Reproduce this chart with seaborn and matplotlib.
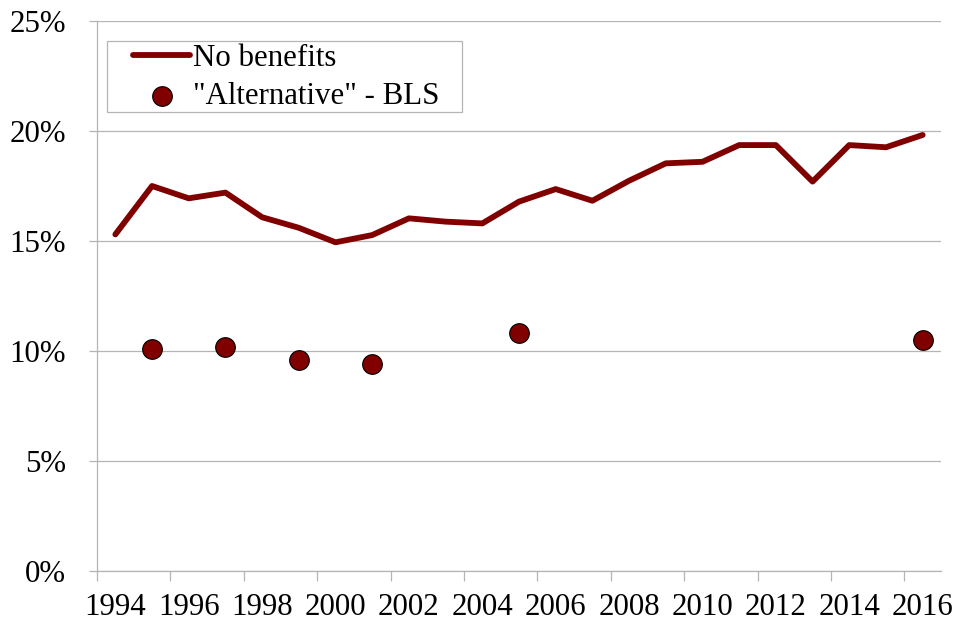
import matplotlib
matplotlib.use("Agg")
import matplotlib.pyplot as plt
from matplotlib.patches import Rectangle
import seaborn as sns
import pandas as pd
import numpy as np

# Share of workers without benefits, by year
years = list(range(1994, 2017))
no_benefits = [15.3, 17.5, 16.94, 17.2, 16.08, 15.6, 14.94, 15.27, 16.03, 15.88,
               15.8, 16.79, 17.36, 16.83, 17.74, 18.53, 18.6, 19.36, 19.36, 17.7,
               19.36, 19.26, 19.82]

# BLS "alternative" arrangements survey years
bls_years = [1995, 1997, 1999, 2001, 2005, 2016]
bls_values = [10.09, 10.2, 9.59, 9.41, 10.8, 10.5]

y_ticks = [0, 5, 10, 15, 20, 25]
x_labels = [str(y) for y in range(1994, 2017, 2)]

line_df = pd.DataFrame({"year": years, "share": no_benefits})
dot_df = pd.DataFrame({"year": bls_years, "share": bls_values})

sns.set_theme(style="white")
plt.rcParams["font.family"] = ["Liberation Serif", "DejaVu Serif"]

MAROON = "#800000"
GRID = "#B5B5B5"
FS = 22.2

fig = plt.figure(figsize=(9.56, 6.24), dpi=100)
ax = fig.add_axes([97 / 956, (624 - 571) / 624, 844 / 956, 550 / 624])

sns.lineplot(data=line_df, x="year", y="share", ax=ax, color=MAROON,
             linewidth=4.2, solid_capstyle="round", solid_joinstyle="round",
             label="No benefits", zorder=3)
sns.scatterplot(data=dot_df, x="year", y="share", ax=ax, color=MAROON,
                s=200, edgecolor="black", linewidth=0.8,
                label='"Alternative" - BLS', zorder=4)

ax.set_xlim(years[0] - 0.5, years[-1] + 0.5)
ax.set_ylim(0, 25)

# y axis: percent labels, horizontal gridlines
ax.set_yticks(y_ticks)
ax.set_yticklabels([f"{v}%" for v in y_ticks], fontsize=FS, color="black")
ax.yaxis.grid(True, color=GRID, linewidth=0.9)
ax.set_axisbelow(True)
ax.tick_params(axis="y", direction="out", length=6, width=0.9, color=GRID,
               pad=16.5, left=True)

# x axis: labels every other year, tick marks at category boundaries
ax.set_xticks(list(range(1994, 2017, 2)))
ax.set_xticklabels(x_labels, fontsize=FS, color="black")
ax.set_xticks(np.arange(years[0] - 0.5, years[-1] + 0.6, 2), minor=True)
ax.tick_params(axis="x", which="major", length=0, pad=15.5)
ax.tick_params(axis="x", which="minor", direction="out", length=7, width=0.9,
               color=GRID, bottom=True)

ax.set_xlabel("")
ax.set_ylabel("")

for side in ["top", "right"]:
    ax.spines[side].set_visible(False)
for side in ["left", "bottom"]:
    ax.spines[side].set_color(GRID)
    ax.spines[side].set_linewidth(0.9)

# legend entries, with a plain square frame drawn around them
leg = ax.legend(loc="upper left", bbox_to_anchor=(36 / 844, 1 - 23 / 550),
                borderaxespad=0, fontsize=FS, frameon=False,
                handlelength=1.85, handletextpad=0.08, labelspacing=0.3,
                borderpad=0)
for t in leg.get_texts():
    t.set_color("black")
ax.add_patch(Rectangle((10 / 844, 1 - 91 / 550), 355 / 844, 71 / 550,
                       transform=ax.transAxes, facecolor="white",
                       edgecolor=GRID, linewidth=0.9, zorder=5))
leg.set_zorder(6)

fig.savefig("out.png", dpi=100, facecolor="white")
